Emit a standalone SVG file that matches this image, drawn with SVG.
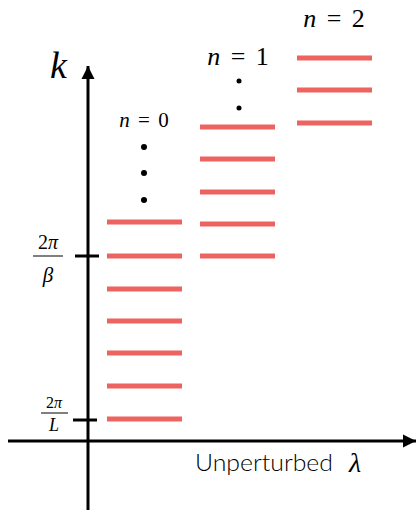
<svg xmlns="http://www.w3.org/2000/svg" width="417" height="513" viewBox="0 0 417 513">
<style>
.ax{stroke:#000;stroke-width:3;fill:none}
.lvl{stroke:#EB5B56;stroke-width:5;stroke-opacity:0.95}
text{fill:#000}
.m{font-family:'Liberation Serif','Times New Roman',serif}
.i{font-style:italic}
.nl{text-anchor:middle}
</style>
<defs>
<marker id="ah" viewBox="0 0 10 10" refX="10" refY="5" markerWidth="4.4" markerHeight="4.4" markerUnits="strokeWidth" orient="auto">
<path d="M0,0 L10,5 L0,10 z" fill="#000"/>
</marker>
</defs>
<rect width="417" height="513" fill="#fff"/>
<g id="connectors">
<line class="ax" x1="88" y1="510" x2="88" y2="66" marker-end="url(#ah)"/>
<line class="ax" x1="8" y1="441" x2="416" y2="441" marker-end="url(#ah)"/>
<line class="ax" x1="75" y1="256" x2="99" y2="256"/>
<line class="ax" x1="73" y1="420" x2="97" y2="420"/>
</g>
<g id="k-label"><text class="m i" x="50" y="78" font-size="38">k</text></g>
<g id="tick-beta">
<text class="m" x="48" y="249" font-size="20" text-anchor="middle">2<tspan class="i">π</tspan></text>
<line x1="33" y1="256" x2="63" y2="256" stroke="#000" stroke-width="1"/>
<text class="m i" x="48" y="282" font-size="21" text-anchor="middle">β</text>
</g>
<g id="tick-L">
<text class="m" x="54" y="408" font-size="16" text-anchor="middle">2<tspan class="i">π</tspan></text>
<line x1="41" y1="413" x2="68" y2="413" stroke="#000" stroke-width="1"/>
<text class="m i" x="54" y="431" font-size="18" text-anchor="middle">L</text>
</g>
<g id="x-label">
<text x="195" y="471" font-family="Lato, 'Liberation Sans', sans-serif" font-weight="300" font-size="23" fill="#111" textLength="138" lengthAdjust="spacingAndGlyphs">Unperturbed</text>
<text class="m i" x="349" y="472" font-size="28">λ</text>
</g>
<g id="n0">
<text class="m nl" x="144" y="127" font-size="21" word-spacing="3"><tspan class="i">n</tspan> = 0</text>
<circle cx="144" cy="147" r="3"/>
<circle cx="144" cy="173" r="3"/>
<circle cx="144" cy="200" r="3"/>
<line class="lvl" x1="107" y1="222" x2="182" y2="222"/>
<line class="lvl" x1="107" y1="256" x2="182" y2="256"/>
<line class="lvl" x1="107" y1="289" x2="182" y2="289"/>
<line class="lvl" x1="107" y1="321" x2="182" y2="321"/>
<line class="lvl" x1="107" y1="353" x2="182" y2="353"/>
<line class="lvl" x1="107" y1="386" x2="182" y2="386"/>
<line class="lvl" x1="107" y1="419" x2="182" y2="419"/>
</g>
<g id="n1">
<text class="m nl" x="238" y="65" font-size="26" word-spacing="4"><tspan class="i">n</tspan> = 1</text>
<circle cx="239" cy="81" r="2.5"/>
<circle cx="239" cy="108" r="2.5"/>
<line class="lvl" x1="200" y1="127" x2="275" y2="127"/>
<line class="lvl" x1="200" y1="159" x2="275" y2="159"/>
<line class="lvl" x1="200" y1="192" x2="275" y2="192"/>
<line class="lvl" x1="200" y1="224" x2="275" y2="224"/>
<line class="lvl" x1="200" y1="256" x2="275" y2="256"/>
</g>
<g id="n2">
<text class="m nl" x="334" y="27" font-size="26" word-spacing="4"><tspan class="i">n</tspan> = 2</text>
<line class="lvl" x1="297" y1="58" x2="372" y2="58"/>
<line class="lvl" x1="297" y1="90" x2="372" y2="90"/>
<line class="lvl" x1="297" y1="123" x2="372" y2="123"/>
</g>
</svg>
